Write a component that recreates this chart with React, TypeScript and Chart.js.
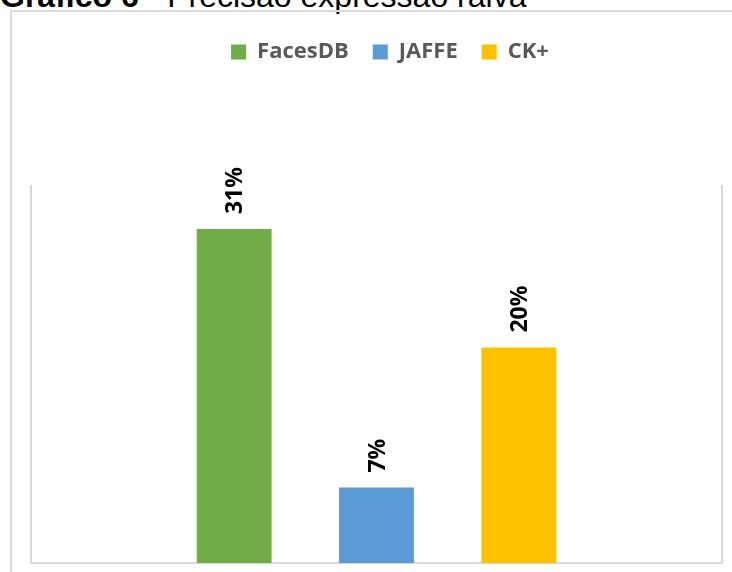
import React, { useEffect, useRef } from 'react';
import { Chart, registerables } from 'chart.js';

Chart.register(...registerables);

const categories = [''];
const seriesNames = ['FacesDB', 'JAFFE', 'CK+'];
const faces = [0.31];
const jaffe = [0.07];
const ck = [0.2];
const seriesColors = ['#70AD47', '#5B9BD5', '#FFC000'];
const yMin = 0;
const yMax = 0.35;
const titleBold = 'Gráfico 6';
const titleRest = ' - Precisão expressão raiva';

const LEGEND_EXTRA = 113;
const LEGEND_SHIFT_X = 13.5;

const legendSpacer = {
  id: 'legendSpacer',
  beforeInit(chart: any) {
    const lg = chart.legend;
    if (!lg || lg.__patched) return;
    const origFit = lg.fit;
    lg.fit = function () {
      origFit.call(this);
      this.height += LEGEND_EXTRA;
    };
    const origDraw = lg.draw;
    lg.draw = function () {
      const ctx = this.ctx;
      ctx.save();
      ctx.translate(LEGEND_SHIFT_X, 0);
      origDraw.call(this);
      ctx.restore();
    };
    lg.__patched = true;
  },
};

const barLabels = {
  id: 'barLabels',
  afterDatasetsDraw(chart: any) {
    const ctx = chart.ctx as CanvasRenderingContext2D;
    chart.data.datasets.forEach((ds: any, i: number) => {
      const meta = chart.getDatasetMeta(i);
      meta.data.forEach((bar: any, j: number) => {
        const v = ds.data[j] as number;
        const text = Math.round(v * 100) + '%';
        ctx.save();
        ctx.translate(bar.x, bar.y - 15);
        ctx.rotate(-Math.PI / 2);
        ctx.font = 'bold 23px "Open Sans"';
        ctx.fillStyle = '#000000';
        ctx.textAlign = 'left';
        ctx.textBaseline = 'alphabetic';
        ctx.fillText(text, 0, 8.2);
        ctx.restore();
      });
    });
  },
};

export default function App() {
  const ref = useRef<HTMLCanvasElement | null>(null);

  useEffect(() => {
    if (!ref.current) return;
    const values = [faces, jaffe, ck];
    const chart = new Chart(ref.current, {
      type: 'bar',
      data: {
        labels: categories,
        datasets: seriesNames.map((name, i) => ({
          label: name,
          data: values[i],
          backgroundColor: seriesColors[i],
          borderWidth: 0,
          categoryPercentage: 0.618,
          barPercentage: 0.526,
        })),
      },
      options: {
        animation: false,
        responsive: false,
        devicePixelRatio: 1,
        layout: { padding: { top: 17, left: 23, right: 2, bottom: 1 } },
        plugins: {
          legend: {
            display: true,
            position: 'top',
            labels: {
              font: { family: '"Open Sans"', size: 22, weight: 'bold' },
              color: '#595959',
              boxWidth: 15,
              boxHeight: 15,
              padding: 24,
            },
          },
          title: { display: false },
          tooltip: { enabled: false },
        },
        scales: {
          x: {
            display: true,
            grid: { display: false },
            ticks: { display: false },
            border: { display: true, color: '#d9d9d9', width: 2 },
          },
          y: {
            position: 'left',
            min: yMin,
            max: yMax,
            grid: { display: false },
            ticks: { display: false },
            border: { display: true, color: '#d9d9d9', width: 2 },
          },
          y2: {
            position: 'right',
            min: yMin,
            max: yMax,
            grid: { display: false },
            ticks: { display: false },
            border: { display: true, color: '#d9d9d9', width: 2 },
          },
        },
      } as any,
      plugins: [legendSpacer, barLabels],
    });
    return () => chart.destroy();
  }, []);

  return (
    <div
      style={{
        position: 'fixed',
        left: 0,
        top: 0,
        width: 732,
        height: 572,
        overflow: 'hidden',
        background: '#ffffff',
      }}
    >
      <div
        style={{
          position: 'absolute',
          left: 0,
          top: -20,
          fontFamily: '"Liberation Sans", Arial, sans-serif',
          fontSize: 32,
          lineHeight: '32px',
          whiteSpace: 'nowrap',
          color: '#000000',
        }}
      >
        <b>{titleBold}</b>
        <span>{titleRest}</span>
      </div>
      <div
        style={{
          position: 'absolute',
          left: 10,
          top: 10,
          width: 740,
          height: 600,
          border: '2px solid #d9d9d9',
          boxSizing: 'border-box',
        }}
      />
      <canvas
        ref={ref}
        width={732}
        height={572}
        style={{ position: 'absolute', left: 0, top: 0, width: 732, height: 572 }}
      />
    </div>
  );
}
